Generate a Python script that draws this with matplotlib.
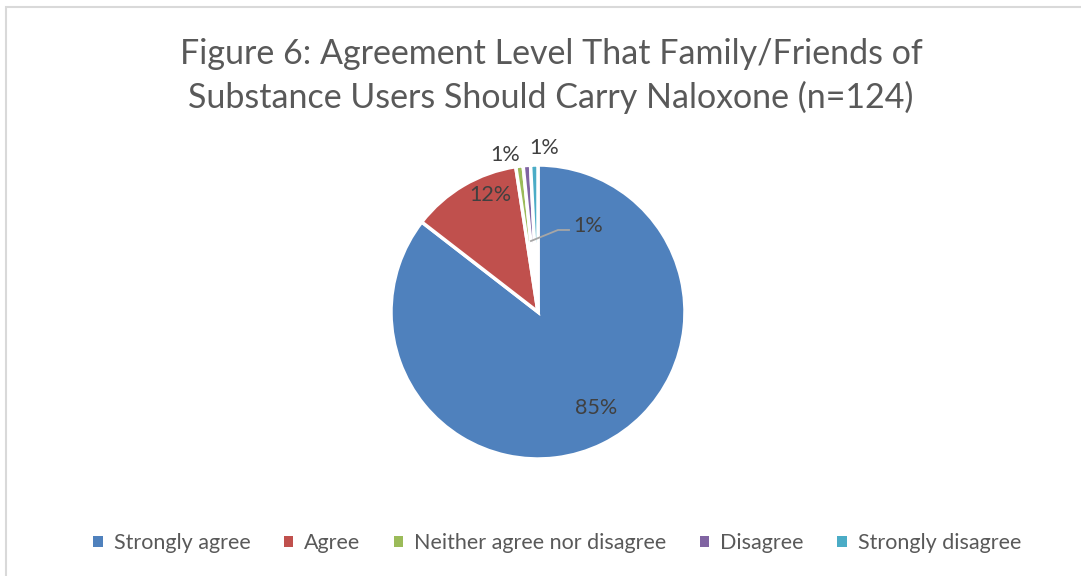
import matplotlib.pyplot as plt
from matplotlib.patches import Patch, Rectangle
import numpy as np

plt.rcParams['font.family'] = ['Lato', 'DejaVu Sans']

categories = ["Strongly agree", "Agree", "Neither agree nor disagree", "Disagree", "Strongly disagree"]
counts = [106, 15, 1, 1, 1]
colours = ["#4F81BD", "#C0504D", "#9BBB59", "#8064A2", "#4BACC6"]
title = "Figure 6: Agreement Level That Family/Friends of\nSubstance Users Should Carry Naloxone (n=124)"

# where excel put the data labels (pie data units, radius 1)
label_pos = [(0.395, -0.653), (-0.327, 0.796), (-0.224, 1.068), (0.340, 0.585), (0.041, 1.116)]

W, H = 1081, 576
fig = plt.figure(figsize=(W / 100, H / 100), dpi=100)

# light gray chart border
fig.patches.append(Rectangle((6 / W, 0 - 0.01), 1.1, 1 - 7 / H + 0.01, transform=fig.transFigure,
                             fill=False, edgecolor="#D9D9D9", lw=1.5))

cx, cy, r = 538, 312, 147
ax = fig.add_axes([(cx - r) / W, (H - cy - r) / H, 2 * r / W, 2 * r / H])

wedges, texts, autotexts = ax.pie(counts, colors=colours, startangle=90, counterclock=False,
                                  autopct=lambda p: f"{p:.0f}%", pctdistance=0.75,
                                  wedgeprops=dict(edgecolor="white", linewidth=2.5),
                                  textprops=dict(color="#404040", fontsize=15.5))
for t, pos in zip(autotexts, label_pos):
    t.set_position(pos)
    t.set_clip_on(False)

# leader line for the disagree label
ax.plot([-0.048, 0.136, 0.211], [0.483, 0.558, 0.558], color="#A6A6A6", lw=1.3, clip_on=False)

ax.set_xlim(-1, 1)
ax.set_ylim(-1, 1)
ax.set_aspect("equal")
ax.axis("off")

fig.text(551 / W, 1 - 76 / H, title, ha="center", va="center", fontsize=24.5, color="#595959",
         linespacing=1.38)

handles = [Patch(facecolor=c, edgecolor="none") for c in colours]
fig.legend(handles, categories, loc="center", bbox_to_anchor=(557 / W, 1 - 543 / H), ncol=5,
           frameon=False, fontsize=15.5, labelcolor="#595959", handlelength=0.45,
           handleheight=0.45, handletextpad=0.5, columnspacing=1.55)

fig.savefig("out.png", dpi=100)
